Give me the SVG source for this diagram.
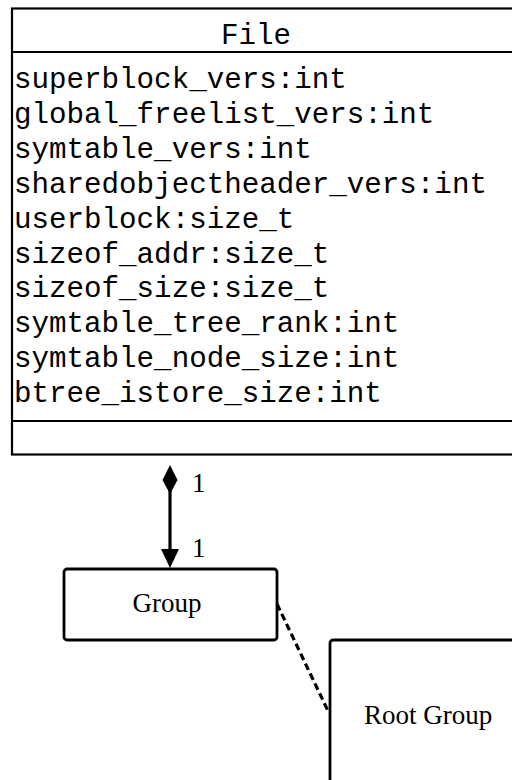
<svg xmlns="http://www.w3.org/2000/svg" width="512" height="780" viewBox="0 0 512 780">
<style>
.mono{font-family:"Liberation Mono","Courier New",monospace;font-size:29.2px;fill:#000}
.serif{font-family:"Liberation Serif","Times New Roman",serif;font-size:27px;fill:#000}
.box{fill:#fff;stroke:#000;stroke-width:2.8}
.line{stroke:#000;stroke-width:2.2;fill:none}
</style>
<rect width="512" height="780" fill="#fff"/>
<g id="File">
<rect x="12" y="8.5" width="520" height="446" fill="#fff" stroke="#000" stroke-width="2.2"/>
<line class="line" x1="12" y1="52" x2="532" y2="52"/>
<line class="line" x1="12" y1="421" x2="532" y2="421"/>
<text class="mono" x="256" y="43.5" text-anchor="middle">File</text>
<text class="mono" x="14" y="88">superblock_vers:int</text>
<text class="mono" x="14" y="122.9">global_freelist_vers:int</text>
<text class="mono" x="14" y="157.8">symtable_vers:int</text>
<text class="mono" x="14" y="192.7">sharedobjectheader_vers:int</text>
<text class="mono" x="14" y="227.6">userblock:size_t</text>
<text class="mono" x="14" y="262.5">sizeof_addr:size_t</text>
<text class="mono" x="14" y="297.4">sizeof_size:size_t</text>
<text class="mono" x="14" y="332.3">symtable_tree_rank:int</text>
<text class="mono" x="14" y="367.2">symtable_node_size:int</text>
<text class="mono" x="14" y="402.1">btree_istore_size:int</text>
</g>
<g id="connectors">
<line x1="170" y1="480" x2="170" y2="552" stroke="#000" stroke-width="3.2"/>
<path d="M170,465 L177.5,480 L170,494 L162.5,480 Z" fill="#000"/>
<path d="M161,549 L179,549 L170,568 Z" fill="#000"/>
<text class="serif" x="192" y="492" font-size="24">1</text>
<text class="serif" x="192" y="557" font-size="24">1</text>
<line x1="277" y1="604" x2="329" y2="713" stroke="#000" stroke-width="3.2" stroke-dasharray="7,4"/>
</g>
<g id="Group">
<rect class="box" x="64" y="569" width="213" height="71" rx="3"/>
<text class="serif" x="167" y="612" text-anchor="middle">Group</text>
</g>
<g id="RootGroup">
<rect class="box" x="330" y="640" width="200" height="170" rx="3"/>
<text class="serif" x="428" y="724" text-anchor="middle">Root Group</text>
</g>
</svg>
